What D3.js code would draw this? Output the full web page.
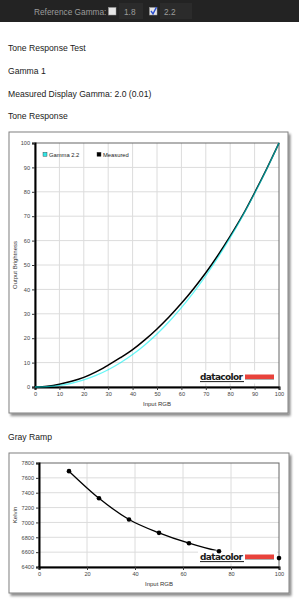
<!DOCTYPE html>
<html><head><meta charset="utf-8">
<script src="https://cdn.jsdelivr.net/npm/d3@7/dist/d3.min.js"></script>
<style>
html,body{margin:0;padding:0;background:#fff;}
svg{display:block;font-family:"Liberation Sans",Arial,sans-serif;}
</style></head>
<body>
<svg id="c" width="299" height="600"></svg>
<script>
// ---- data ----
const toneX = [0,5,10,15,20,25,30,35,40,45,50,55,60,65,70,75,80,85,90,95,100];
const gamma22 = [0,0.14,0.63,1.54,2.90,4.74,7.07,9.93,13.32,17.26,21.76,26.84,32.50,38.76,45.63,53.11,61.21,69.94,79.31,89.33,100];
const measured = [0,0.35,1.15,2.35,3.95,6.2,9.0,12.0,15.3,19.3,23.8,28.8,34.3,40.3,46.8,54.0,61.8,70.2,79.6,89.5,100];
const toneTicks = [0,10,20,30,40,50,60,70,80,90,100];
const legendLabels = ["Gamma 2.2","Measured"];
const rampX = [12.5,25,37.5,50,62.5,75,87.5,100];
const rampKelvin = [7690,7325,7040,6860,6720,6612,6555,6520];
const rampYTicks = [6400,6600,6800,7000,7200,7400,7600,7800];
const rampXTicks = [0,20,40,60,80,100];
const headerLines = ["Tone Response Test","Gamma 1","Measured Display Gamma: 2.0 (0.01)","Tone Response"];

const svg = d3.select("#c");
const defs = svg.append("defs");
const f = defs.append("filter").attr("id","sh").attr("x","-5%").attr("y","-5%").attr("width","115%").attr("height","115%");
f.append("feDropShadow").attr("dx",2).attr("dy",2.5).attr("stdDeviation",1.2).attr("flood-color","#000").attr("flood-opacity",0.45);

// ---- top bar ----
svg.append("rect").attr("x",0).attr("y",0).attr("width",299).attr("height",22).attr("fill","#232323");
svg.append("rect").attr("x",119).attr("y",3).attr("width",24).attr("height",16).attr("fill","#2b2b2b");
svg.append("rect").attr("x",160).attr("y",3).attr("width",32).attr("height",16).attr("fill","#2b2b2b");
svg.append("text").attr("x",34).attr("y",14.5).attr("font-size",8.3).attr("fill","#9c9c9c").text("Reference Gamma:");
svg.append("rect").attr("x",108.5).attr("y",7.5).attr("width",7.5).attr("height",7.5).attr("fill","#e6e6e6").attr("stroke","#999").attr("stroke-width",0.5);
svg.append("text").attr("x",124).attr("y",15).attr("font-size",8.3).attr("fill","#9c9c9c").text("1.8");
svg.append("rect").attr("x",149.5).attr("y",7.5).attr("width",7.5).attr("height",7.5).attr("fill","#e6e6e6").attr("stroke","#999").attr("stroke-width",0.5);
svg.append("path").attr("d","M151,11 L153,13.8 L156.5,7.2").attr("fill","none").attr("stroke","#2a4fd0").attr("stroke-width",1.4);
svg.append("text").attr("x",164).attr("y",15).attr("font-size",8.3).attr("fill","#9c9c9c").text("2.2");

// ---- header text ----
const headY = [51,74,97,119];
headerLines.forEach((t,i)=>{
  svg.append("text").attr("x",8).attr("y",headY[i]).attr("font-size",8.6).attr("fill","#1a1a1a").text(t);
});
svg.append("text").attr("x",8).attr("y",440).attr("font-size",8.6).attr("fill","#1a1a1a").text("Gray Ramp");

function logo(g, x, y){
  g.append("rect").attr("x",x-2).attr("y",y-9).attr("width",79).attr("height",13).attr("fill","#fff");
  g.append("text").attr("x",x).attr("y",y).attr("font-family","'DejaVu Sans',Verdana,sans-serif").attr("font-weight","bold")
    .attr("font-size",9).attr("fill","#1a1a1a").attr("textLength",43).attr("lengthAdjust","spacing").text("datacolor");
  g.append("rect").attr("x",x).attr("y",y+1.6).attr("width",44).attr("height",1).attr("fill","#1a1a1a");
  g.append("rect").attr("x",x+45).attr("y",y-5).attr("width",29).attr("height",4.5).attr("fill","#e8433c");
  g.append("rect").attr("x",x+45).attr("y",y-0.5).attr("width",29).attr("height",1).attr("fill","#b0b0b0");
}

function styleAxis(a){
  a.select(".domain").attr("stroke","#000").attr("stroke-width",2);
  a.selectAll(".tick line").attr("stroke","#333");
  a.selectAll(".tick text").attr("font-size",5.6).attr("fill","#444").attr("font-family","'Liberation Sans',Arial,sans-serif");
}

// ---- chart 1: tone response ----
(function(){
  const fr = {x:9,y:132,w:279,h:281};
  svg.append("rect").attr("x",fr.x).attr("y",fr.y).attr("width",fr.w).attr("height",fr.h).attr("fill","#fff").attr("stroke","#808080").attr("stroke-width",1).attr("filter","url(#sh)");
  const L=35,T=143,R=279,B=387;
  const x = d3.scaleLinear().domain([0,100]).range([L,R]);
  const y = d3.scaleLinear().domain([0,100]).range([B,T]);
  const g = svg.append("g");
  g.selectAll(".gx").data(toneTicks.slice(1,-1)).join("line").attr("x1",d=>x(d)).attr("x2",d=>x(d)).attr("y1",T).attr("y2",B).attr("stroke","#dcdcdc").attr("stroke-width",1);
  g.selectAll(".gy").data(toneTicks.slice(1,-1)).join("line").attr("y1",d=>y(d)).attr("y2",d=>y(d)).attr("x1",L).attr("x2",R).attr("stroke","#dcdcdc").attr("stroke-width",1);
  g.append("rect").attr("x",L).attr("y",T).attr("width",R-L).attr("height",B-T).attr("fill","none").attr("stroke","#666").attr("stroke-width",1);
  const ax = g.append("g").attr("transform",`translate(0,${B})`).call(d3.axisBottom(x).tickValues(toneTicks).tickFormat(d3.format("d")).tickSize(3).tickPadding(2));
  const ay = g.append("g").attr("transform",`translate(${L},0)`).call(d3.axisLeft(y).tickValues(toneTicks).tickFormat(d3.format("d")).tickSize(3).tickPadding(2));
  styleAxis(ax); styleAxis(ay);
  g.append("text").attr("x",(L+R)/2).attr("y",405.5).attr("text-anchor","middle").attr("font-size",6).attr("fill","#333").text("Input RGB");
  g.append("text").attr("transform",`translate(17,${(T+B)/2}) rotate(-90)`).attr("text-anchor","middle").attr("font-size",6).attr("fill","#333").text("Output Brightness");
  const ln = d3.line().x((d,i)=>x(toneX[i])).y(d=>y(d)).curve(d3.curveMonotoneX);
  g.append("path").attr("d",ln(measured)).attr("fill","none").attr("stroke","#000").attr("stroke-width",1.5);
  g.append("path").attr("d",ln(gamma22)).attr("fill","none").attr("stroke","#00f0f0").attr("stroke-opacity",0.6).attr("stroke-width",1.3);
  const lc = ["#33e6e6","#000"];
  const lx = [43,97];
  legendLabels.forEach((t,i)=>{
    g.append("rect").attr("x",lx[i]).attr("y",152.3).attr("width",4).attr("height",4).attr("fill",lc[i]).attr("stroke","#333").attr("stroke-width",0.4);
    g.append("text").attr("x",lx[i]+6).attr("y",157).attr("font-size",5.8).attr("fill","#222").text(t);
  });
  logo(g,200,379.5);
})();

// ---- chart 2: gray ramp ----
(function(){
  const fr = {x:9,y:453,w:280,h:140};
  svg.append("rect").attr("x",fr.x).attr("y",fr.y).attr("width",fr.w).attr("height",fr.h).attr("fill","#fff").attr("stroke","#808080").attr("stroke-width",1).attr("filter","url(#sh)");
  const L=39,T=463,R=279,B=567;
  const x = d3.scaleLinear().domain([0,100]).range([L,R]);
  const y = d3.scaleLinear().domain([6400,7800]).range([B,T]);
  const g = svg.append("g");
  g.selectAll(".gx").data(rampXTicks.slice(1,-1)).join("line").attr("x1",d=>x(d)).attr("x2",d=>x(d)).attr("y1",T).attr("y2",B).attr("stroke","#dcdcdc").attr("stroke-width",1);
  g.selectAll(".gy").data(rampYTicks.slice(1,-1)).join("line").attr("y1",d=>y(d)).attr("y2",d=>y(d)).attr("x1",L).attr("x2",R).attr("stroke","#dcdcdc").attr("stroke-width",1);
  g.append("rect").attr("x",L).attr("y",T).attr("width",R-L).attr("height",B-T).attr("fill","none").attr("stroke","#666").attr("stroke-width",1);
  const ax = g.append("g").attr("transform",`translate(0,${B})`).call(d3.axisBottom(x).tickValues(rampXTicks).tickFormat(d3.format("d")).tickSize(3).tickPadding(2));
  const ay = g.append("g").attr("transform",`translate(${L},0)`).call(d3.axisLeft(y).tickValues(rampYTicks).tickFormat(d3.format("d")).tickSize(3).tickPadding(2));
  styleAxis(ax); styleAxis(ay);
  g.append("text").attr("x",(L+R)/2).attr("y",585.5).attr("text-anchor","middle").attr("font-size",6).attr("fill","#333").text("Input RGB");
  g.append("text").attr("transform",`translate(17,${(T+B)/2}) rotate(-90)`).attr("text-anchor","middle").attr("font-size",6).attr("fill","#333").text("Kelvin");
  const ln = d3.line().x((d,i)=>x(rampX[i])).y(d=>y(d)).curve(d3.curveMonotoneX);
  g.append("path").attr("d",ln(rampKelvin)).attr("fill","none").attr("stroke","#000").attr("stroke-width",1.3);
  logo(g,200,559.5);
  g.selectAll(".pt").data(rampKelvin).join("circle").attr("cx",(d,i)=>x(rampX[i])).attr("cy",d=>y(d)).attr("r",2.3).attr("fill","#000")
    .attr("display",(d,i)=>rampX[i]===87.5?"none":null);
})();
</script>
</body></html>
